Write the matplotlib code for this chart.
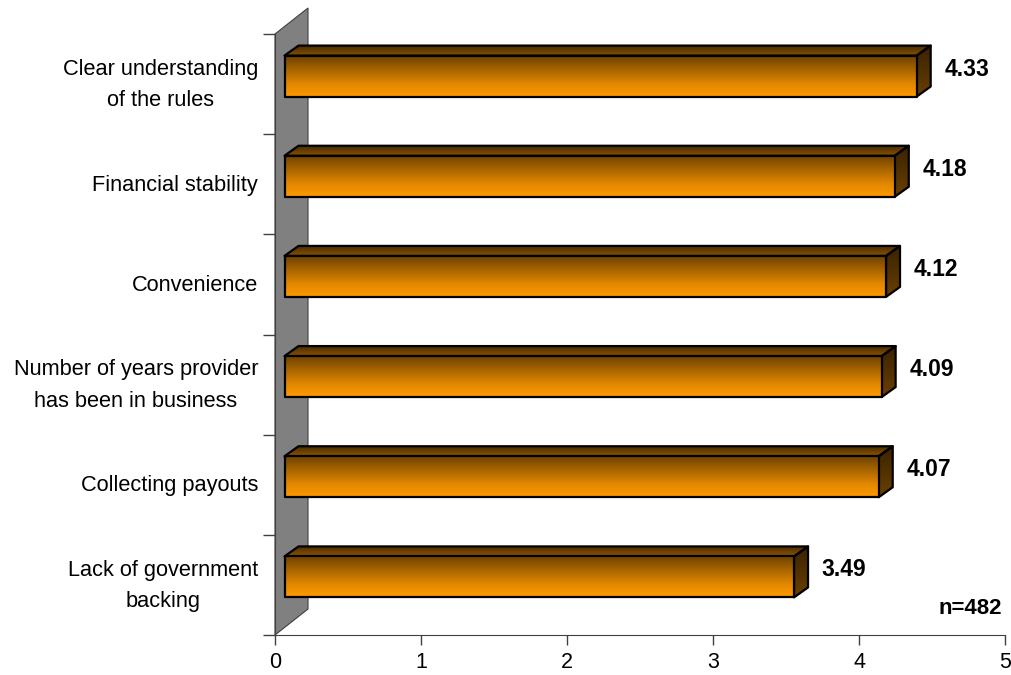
import numpy as np
import matplotlib
matplotlib.use("Agg")
import matplotlib.pyplot as plt
from matplotlib.patches import Polygon
from matplotlib.colors import LinearSegmentedColormap

plt.rcParams["font.family"] = ["Liberation Sans", "DejaVu Sans"]

# bottom to top
categories = ["Lack of government\nbacking", "Collecting payouts",
              "Number of years provider\nhas been in business", "Convenience",
              "Financial stability", "Clear understanding\nof the rules"]
scores = [3.49, 4.07, 4.09, 4.12, 4.18, 4.33]
xticks = [0, 1, 2, 3, 4, 5]
note = "n=482"

W, H = 1011, 675
fig = plt.figure(figsize=(W / 100, H / 100), dpi=100)
ax = fig.add_axes([275 / W, 40 / H, 730 / W, 601 / H])
ax.set_xlim(0, 5)
ax.set_ylim(0, len(categories))

# pixel -> data helpers
px = 5 / 730
py = len(categories) / 601

# back wall
wall = Polygon([(0, 0), (0, 6), (33 * px, 6 + 26 * py), (33 * px, 26 * py)],
               closed=True, facecolor="#808080", edgecolor="#404040", lw=0.8,
               clip_on=False, zorder=1)
ax.add_patch(wall)

front_cm = LinearSegmentedColormap.from_list("front", ["#ff9a00", "#e08600", "#a86400", "#6e4200"])
top_cm = LinearSegmentedColormap.from_list("top", ["#8a5300", "#4a2c00"])
side_cm = LinearSegmentedColormap.from_list("side", ["#6a4000", "#3a2200"])
grad = np.linspace(0, 1, 256).reshape(-1, 1)


def shaded(poly_pts, cmap, z):
    poly = Polygon(poly_pts, closed=True, facecolor="none", edgecolor="black",
                   lw=1.6, joinstyle="round", zorder=z + 0.1, clip_on=False)
    ax.add_patch(poly)
    xs = [p[0] for p in poly_pts]
    ys = [p[1] for p in poly_pts]
    im = ax.imshow(grad, cmap=cmap, aspect="auto", origin="lower",
                   extent=[min(xs), max(xs), min(ys), max(ys)], zorder=z,
                   interpolation="bilinear")
    im.set_clip_path(poly)


ox, oy = 9.5 * px, 8 * py      # front face shift from axis plane
dx, dy = 14 * px, 10 * py      # bar depth
hh = 20.5 * py                 # half height of front face

for i, v in enumerate(scores):
    c = i + 0.5 + oy
    x0, x1 = ox, v + ox
    y0, y1 = c - hh, c + hh
    shaded([(x0, y1), (x1, y1), (x1 + dx, y1 + dy), (x0 + dx, y1 + dy)], top_cm, 3)
    shaded([(x1, y0), (x1 + dx, y0 + dy), (x1 + dx, y1 + dy), (x1, y1)], side_cm, 3)
    shaded([(x0, y0), (x1, y0), (x1, y1), (x0, y1)], front_cm, 4)
    ax.text(v + 37 * px, i + 0.5 + 15 * py, f"{v:.2f}", fontsize=16.5,
            fontweight="bold", ha="left", va="center")

# category labels
ytr = ax.get_yaxis_transform()
for i, lab in enumerate(categories):
    ax.text(-17 / 730, i + 0.5 - 1 * py, lab, transform=ytr, fontsize=15.7,
            ha="right", va="center", multialignment="center", linespacing=1.66)

ax.set_xticks(xticks)
ax.set_xticklabels([str(t) for t in xticks], fontsize=15.5)
ax.set_yticks(np.arange(len(categories) + 1))
ax.set_yticklabels([])
ax.tick_params(axis="y", length=9, width=1, color="#404040")
ax.tick_params(axis="x", length=7, width=1, pad=5, color="#404040")

for s in ("top", "right"):
    ax.spines[s].set_visible(False)
ax.spines["left"].set_color("#404040")
ax.spines["bottom"].set_color("#404040")
ax.spines["left"].set_zorder(2)

fig.text(1002 / W, 1 - 608 / H, note, fontsize=16, fontweight="bold",
         ha="right", va="center")

fig.savefig("out.png", dpi=100)
